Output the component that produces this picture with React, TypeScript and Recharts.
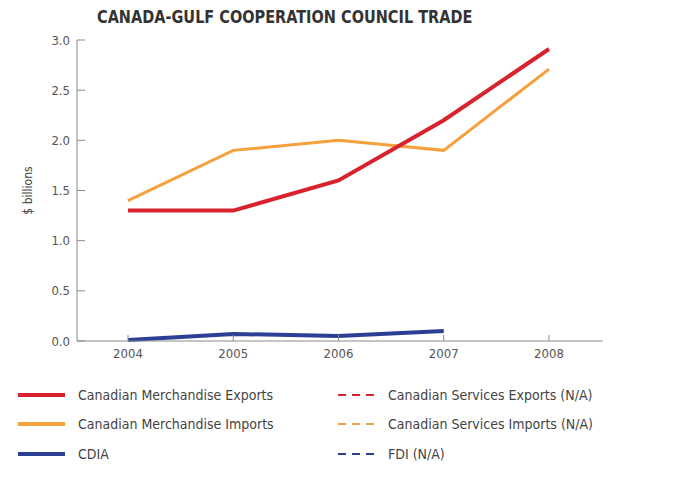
import { LineChart, Line, XAxis, YAxis } from "recharts";

const years = ["2004", "2005", "2006", "2007", "2008"];
const merchExports = [1.3, 1.3, 1.6, 2.2, 2.91];
const merchImports = [1.4, 1.9, 2.0, 1.9, 2.71];
const cdia = [0.01, 0.07, 0.05, 0.1, null];
const yTicks = [0, 0.5, 1.0, 1.5, 2.0, 2.5, 3.0];

const data = years.map((year, i) => ({
  year,
  exports: merchExports[i],
  imports: merchImports[i],
  cdia: cdia[i],
}));

const FONT = '"Liberation Sans Narrow", "DejaVu Sans Condensed", "Liberation Sans", sans-serif';
const RED = "#d8232e";
const ORANGE = "#f6a03e";
const BLUE = "#2b3f96";
const AXIS = "#8a8a8a";

const legendLeft = [
  { label: "Canadian Merchandise Exports", color: RED },
  { label: "Canadian Merchandise Imports", color: ORANGE },
  { label: "CDIA", color: BLUE },
];
const legendRight = [
  { label: "Canadian Services Exports (N/A)", color: RED },
  { label: "Canadian Services Imports (N/A)", color: ORANGE },
  { label: "FDI (N/A)", color: BLUE },
];
const rowTops = [396, 425, 455];

function Swatch({ color, dashed, width }: { color: string; dashed?: boolean; width: number }) {
  return (
    <svg width={width} height={6} style={{ display: "block" }}>
      <line
        x1={0}
        y1={3}
        x2={width}
        y2={3}
        stroke={color}
        strokeWidth={dashed ? 2 : 4}
        strokeDasharray={dashed ? "8 6" : undefined}
      />
    </svg>
  );
}

export default function App() {
  return (
    <div
      style={{
        position: "absolute",
        left: 0,
        top: 0,
        width: 684,
        height: 479,
        background: "#fff",
        fontFamily: FONT,
      }}
    >
      <div
        style={{
          position: "absolute",
          left: 97,
          top: 6,
          fontSize: 18,
          fontWeight: "bold",
          color: "#333",
          whiteSpace: "nowrap",
          transform: "scaleX(0.895)",
          transformOrigin: "left center",
        }}
      >
        CANADA-GULF COOPERATION COUNCIL TRADE
      </div>
      <LineChart
        width={684}
        height={380}
        data={data}
        margin={{ top: 40, right: 81, bottom: 9, left: 17 }}
        style={{ position: "absolute", left: 0, top: 0 }}
      >
        <XAxis
          dataKey="year"
          height={30}
          padding={{ left: 51, right: 54 }}
          axisLine={{ stroke: AXIS }}
          tickLine={{ stroke: AXIS }}
          tickSize={-6}
          tickMargin={14}
          tick={{ fill: "#555", fontSize: 13, fontFamily: FONT }}
        />
        <YAxis
          width={60}
          domain={[0, 3]}
          ticks={yTicks}
          interval={0}
          tickFormatter={(v: number) => v.toFixed(1)}
          axisLine={{ stroke: AXIS }}
          tickLine={{ stroke: AXIS }}
          tickSize={-8}
          tickMargin={15}
          tick={{ fill: "#555", fontSize: 13, fontFamily: FONT }}
          label={{
            value: "$ billions",
            angle: -90,
            position: "insideLeft",
            offset: 11,
            style: { fill: "#444", fontSize: 12, fontFamily: FONT, textAnchor: "middle" },
          }}
        />
        <Line
          dataKey="imports"
          stroke={ORANGE}
          strokeWidth={3}
          dot={false}
          isAnimationActive={false}
          type="linear"
        />
        <Line
          dataKey="exports"
          stroke={RED}
          strokeWidth={4}
          dot={false}
          isAnimationActive={false}
          type="linear"
        />
        <Line
          dataKey="cdia"
          stroke={BLUE}
          strokeWidth={4}
          dot={false}
          isAnimationActive={false}
          type="linear"
          connectNulls={false}
        />
      </LineChart>
      {legendLeft.map((item, i) => (
        <div
          key={item.label}
          style={{ position: "absolute", left: 18, top: rowTops[i] - 9, display: "flex", alignItems: "center" }}
        >
          <Swatch color={item.color} width={47} />
          <span style={{ marginLeft: 13, fontSize: 14, color: "#444", whiteSpace: "nowrap" }}>{item.label}</span>
        </div>
      ))}
      {legendRight.map((item, i) => (
        <div
          key={item.label}
          style={{ position: "absolute", left: 338, top: rowTops[i] - 9, display: "flex", alignItems: "center" }}
        >
          <Swatch color={item.color} width={37} dashed />
          <span style={{ marginLeft: 13, fontSize: 14, color: "#444", whiteSpace: "nowrap" }}>{item.label}</span>
        </div>
      ))}
    </div>
  );
}
